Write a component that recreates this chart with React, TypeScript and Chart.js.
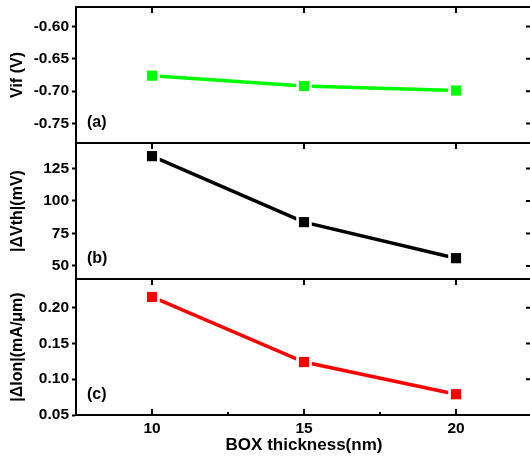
import { useEffect, useRef } from 'react';
import { Chart, registerables } from 'chart.js';

Chart.register(...registerables);

// BOX thickness (nm) for each simulated device
const thickness = [10, 15, 20];
// Panel (a): Vif (V)
const vifValues = [-0.676, -0.692, -0.699];
// Panel (b): |ΔVth| (mV)
const dvthValues = [134.4, 83.7, 56];
// Panel (c): |ΔIon| (mA/μm)
const dionValues = [0.215, 0.124, 0.079];

const xTicks = [10, 15, 20];
const xMinorTicks = [12.5, 17.5];
const vifTicks = [-0.6, -0.65, -0.7, -0.75];
const dvthTicks = [50, 75, 100, 125];
const dionTicks = [0.05, 0.1, 0.15, 0.2];
const panelLabels = ['(a)', '(b)', '(c)'];
const panelTitles = ['Vif (V)', '|\u0394Vth|(mV)', '|\u0394Ion|(mA/\u03bcm)'];

const FONT = '"Liberation Sans", Arial, Helvetica, sans-serif';
const panelIds = ['yA', 'yB', 'yC'];

function panelSeries(values: number[], yAxisID: string, color: string) {
  const pts = thickness.map((t, i) => ({ x: t, y: values[i] }));
  return [
    {
      data: pts,
      yAxisID,
      borderColor: color,
      borderWidth: 3.5,
      pointRadius: 0,
      showLine: true,
      tension: 0,
      order: 3,
    },
    {
      // white halo that opens a small gap between the line and each marker
      data: pts,
      yAxisID,
      showLine: false,
      pointStyle: 'rect',
      pointRadius: 11,
      pointBackgroundColor: '#ffffff',
      pointBorderWidth: 0,
      order: 2,
    },
    {
      data: pts,
      yAxisID,
      showLine: false,
      pointStyle: 'rect',
      pointRadius: 7.2,
      pointBackgroundColor: color,
      pointBorderColor: color,
      pointBorderWidth: 0,
      order: 1,
    },
  ];
}

function yScale(
  ticks: number[],
  min: number,
  max: number,
  title: string,
  weight: number,
  decimals: number
) {
  return {
    type: 'linear',
    position: 'left',
    stack: 'panels',
    stackWeight: 1,
    weight,
    min,
    max,
    afterBuildTicks: (s: any) => {
      s.ticks = ticks.map((v) => ({ value: v }));
    },
    afterFit: (s: any) => {
      s.width = 76;
      s.paddingTop = 0;
      s.paddingBottom = 0;
    },
    border: { display: true, width: 2, color: '#000' },
    grid: {
      drawOnChartArea: false,
      drawTicks: true,
      tickLength: 4,
      tickWidth: 2,
      tickColor: '#000',
    },
    ticks: {
      color: '#000',
      padding: 3,
      font: { family: FONT, size: 15.5, weight: 'bold' },
      callback: (v: number) => Number(v).toFixed(decimals),
    },
    title: {
      display: true,
      text: title,
      color: '#000',
      padding: { top: 8, bottom: 0 },
      font: { family: FONT, size: 16, weight: 'bold' },
    },
  };
}

const panelFrames = {
  id: 'panelFrames',
  afterDraw(chart: any) {
    const { ctx, chartArea, scales } = chart;
    const x = scales.x;
    ctx.save();
    ctx.strokeStyle = '#000';
    ctx.lineWidth = 2;
    panelIds.forEach((id, i) => {
      const s = scales[id];
      ctx.strokeRect(chartArea.left, s.top, chartArea.right - chartArea.left, s.bottom - s.top);
      ctx.beginPath();
      xTicks.forEach((v) => {
        const px = x.getPixelForValue(v);
        ctx.moveTo(px, s.top);
        ctx.lineTo(px, s.top + 6);
      });
      s.ticks.forEach((t: any) => {
        const py = s.getPixelForValue(t.value);
        ctx.moveTo(chartArea.right, py);
        ctx.lineTo(chartArea.right - 6, py);
      });
      ctx.stroke();

      ctx.fillStyle = '#000';
      ctx.font = `bold 16px ${FONT}`;
      ctx.textAlign = 'left';
      ctx.textBaseline = 'middle';
      ctx.fillText(panelLabels[i], chartArea.left + 11, s.bottom - 20);
    });

    // inward ticks on the shared bottom axis
    ctx.beginPath();
    xTicks.forEach((v) => {
      const px = x.getPixelForValue(v);
      ctx.moveTo(px, chartArea.bottom);
      ctx.lineTo(px, chartArea.bottom - 6);
    });
    xMinorTicks.forEach((v) => {
      const px = x.getPixelForValue(v);
      ctx.moveTo(px, chartArea.bottom);
      ctx.lineTo(px, chartArea.bottom - 3);
    });
    ctx.stroke();
    ctx.restore();
  },
};

export default function App() {
  const canvasRef = useRef<HTMLCanvasElement | null>(null);

  useEffect(() => {
    if (!canvasRef.current) return;
    const chart = new Chart(canvasRef.current, {
      type: 'line',
      data: {
        datasets: [
          ...panelSeries(vifValues, 'yA', '#00ff00'),
          ...panelSeries(dvthValues, 'yB', '#000000'),
          ...panelSeries(dionValues, 'yC', '#ff0000'),
        ] as any,
      },
      options: {
        responsive: false,
        devicePixelRatio: 1,
        animation: false,
        events: [],
        layout: { autoPadding: false, padding: { left: 0, right: 8, top: 7, bottom: 0 } },
        plugins: {
          legend: { display: false },
          tooltip: { enabled: false },
        },
        scales: {
          x: {
            type: 'linear',
            min: 7.5,
            max: 22.5,
            afterBuildTicks: (s: any) => {
              s.ticks = xTicks.map((v) => ({ value: v }));
            },
            afterFit: (s: any) => {
              s.height = 43;
              s.paddingLeft = 0;
              s.paddingRight = 0;
            },
            border: { display: true, width: 2, color: '#000' },
            grid: { display: false, drawTicks: false },
            ticks: {
              color: '#000',
              padding: 4,
              font: { family: FONT, size: 15.5, weight: 'bold' },
            },
            title: {
              display: true,
              text: 'BOX thickness(nm)',
              color: '#000',
              padding: { top: 2, bottom: 2 },
              font: { family: FONT, size: 17, weight: 'bold' },
            },
          },
          yA: yScale(vifTicks, -0.78, -0.57, panelTitles[0], 3, 2),
          yB: yScale(dvthTicks, 40, 144.5, panelTitles[1], 2, 0),
          yC: yScale(dionTicks, 0.05, 0.24, panelTitles[2], 1, 2),
        } as any,
      },
      plugins: [panelFrames],
    });
    return () => chart.destroy();
  }, []);

  return (
    <div
      style={{
        position: 'fixed',
        left: 0,
        top: 0,
        width: 530,
        height: 458,
        overflow: 'hidden',
        background: '#fff',
      }}
    >
      <canvas ref={canvasRef} width={540} height={458} style={{ display: 'block' }} />
    </div>
  );
}
